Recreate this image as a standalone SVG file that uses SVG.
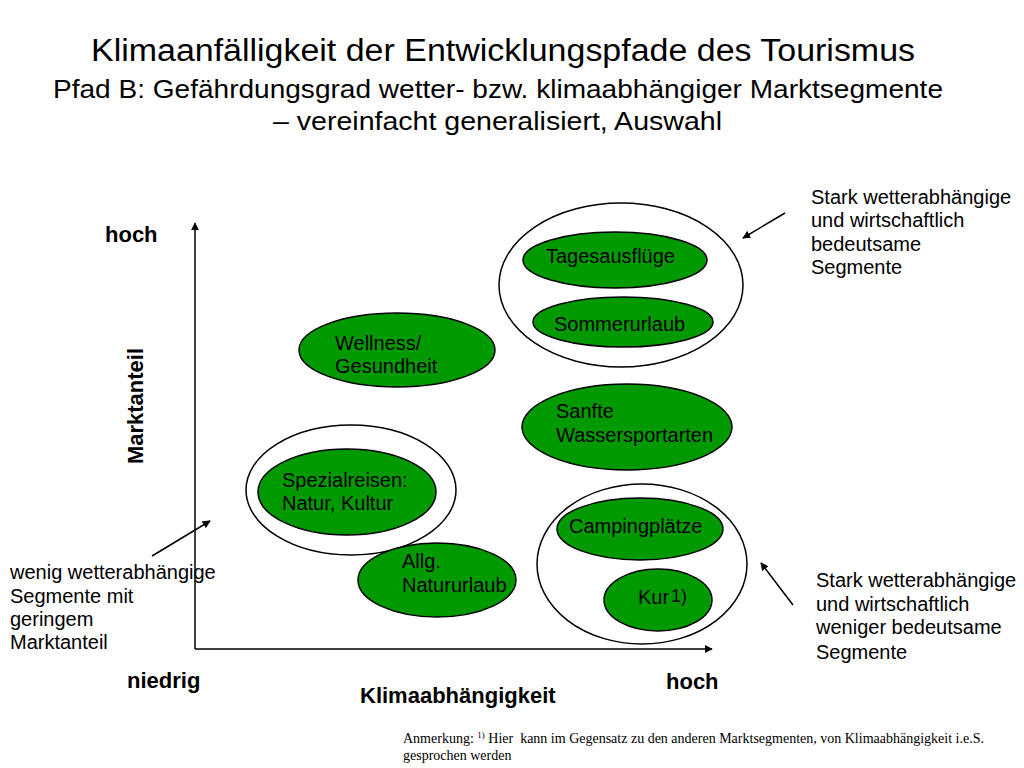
<svg xmlns="http://www.w3.org/2000/svg" width="1024" height="768" viewBox="0 0 1024 768">
<defs>
<style>
text{font-family:"Liberation Sans",Arial,sans-serif;fill:#000}
.t1{font-size:31px}
.t2{font-size:26px}
.lb{font-size:20px}
.ax{font-size:22px;font-weight:bold}
.fn{font-family:"Liberation Serif","Times New Roman",serif;font-size:14px}
.g{fill:#009900;stroke:#000;stroke-width:1.5}
.o{fill:none;stroke:#000;stroke-width:1.5}
.ln{stroke:#000;stroke-width:1.5;fill:none}
</style>
<marker id="ah" viewBox="0 0 10 10" refX="9" refY="5" markerWidth="8" markerHeight="8" markerUnits="userSpaceOnUse" orient="auto">
<path d="M0,0 L10,5 L0,10 z" fill="#000"/>
</marker>
</defs>
<rect width="1024" height="768" fill="#fff"/>
<g id="title">
<text class="t1" x="91" y="61" textLength="824" lengthAdjust="spacingAndGlyphs">Klimaanfälligkeit der Entwicklungspfade des Tourismus</text>
<text class="t2" x="53" y="98" textLength="890" lengthAdjust="spacingAndGlyphs">Pfad B: Gefährdungsgrad wetter- bzw. klimaabhängiger Marktsegmente</text>
<text class="t2" x="273" y="130" textLength="449" lengthAdjust="spacingAndGlyphs">– vereinfacht generalisiert, Auswahl</text>
</g>
<g id="connectors">
<line class="ln" x1="195" y1="649" x2="195" y2="223" marker-end="url(#ah)"/>
<line class="ln" x1="195" y1="649" x2="712" y2="649" marker-end="url(#ah)"/>
<line class="ln" x1="785" y1="213" x2="743" y2="238" marker-end="url(#ah)"/>
<line class="ln" x1="793" y1="605" x2="761" y2="563" marker-end="url(#ah)"/>
<line class="ln" x1="152" y1="556" x2="210" y2="521" marker-end="url(#ah)"/>
</g>
<g id="axis-labels">
<text class="ax" x="105" y="242">hoch</text>
<text class="ax" transform="translate(143,406) rotate(-90)" text-anchor="middle">Marktanteil</text>
<text class="ax" x="127" y="688">niedrig</text>
<text class="ax" x="666" y="689">hoch</text>
<text class="ax" x="360" y="703">Klimaabhängigkeit</text>
</g>
<g id="group-top">
<ellipse class="o" cx="621" cy="285" rx="122" ry="82"/>
</g>
<g id="group-left">
<ellipse class="o" cx="351" cy="490" rx="105" ry="65"/>
</g>
<g id="group-bottom">
<ellipse class="o" cx="642" cy="564" rx="105" ry="80"/>
</g>
<g id="tagesausfluege">
<ellipse class="g" cx="615" cy="260" rx="92" ry="28"/>
<text class="lb" x="546" y="263">Tagesausflüge</text>
</g>
<g id="sommerurlaub">
<ellipse class="g" cx="623" cy="322" rx="90" ry="25"/>
<text class="lb" x="554" y="331">Sommerurlaub</text>
</g>
<g id="wellness">
<ellipse class="g" cx="397" cy="350" rx="98" ry="37"/>
<text class="lb" x="335" y="350">Wellness/</text>
<text class="lb" x="335" y="373">Gesundheit</text>
</g>
<g id="wassersport">
<ellipse class="g" cx="627" cy="427" rx="105" ry="43"/>
<text class="lb" x="556" y="418">Sanfte</text>
<text class="lb" x="556" y="442">Wassersportarten</text>
</g>
<g id="spezialreisen">
<ellipse class="g" cx="347" cy="492" rx="89" ry="43"/>
<text class="lb" x="282" y="487">Spezialreisen:</text>
<text class="lb" x="282" y="510">Natur, Kultur</text>
</g>
<g id="natururlaub">
<ellipse class="g" cx="437" cy="580" rx="79" ry="37"/>
<text class="lb" x="402" y="568">Allg.</text>
<text class="lb" x="402" y="592">Natururlaub</text>
</g>
<g id="camping">
<ellipse class="g" cx="640" cy="529" rx="83" ry="31"/>
<text class="lb" x="569" y="533">Campingplätze</text>
</g>
<g id="kur">
<ellipse class="g" cx="658" cy="600" rx="54" ry="31"/>
<text class="lb" x="638" y="604">Kur</text>
<text class="lb" x="671" y="602" style="font-size:18px">1)</text>
</g>
<g id="note-top">
<text class="lb" x="811" y="204">Stark wetterabhängige</text>
<text class="lb" x="811" y="227">und wirtschaftlich</text>
<text class="lb" x="811" y="251">bedeutsame</text>
<text class="lb" x="811" y="274">Segmente</text>
</g>
<g id="note-bottom">
<text class="lb" x="816" y="587">Stark wetterabhängige</text>
<text class="lb" x="816" y="611">und wirtschaftlich</text>
<text class="lb" x="816" y="634">weniger bedeutsame</text>
<text class="lb" x="816" y="659">Segmente</text>
</g>
<g id="note-left">
<text class="lb" x="10" y="579">wenig wetterabhängige</text>
<text class="lb" x="10" y="603">Segmente mit</text>
<text class="lb" x="10" y="626">geringem</text>
<text class="lb" x="10" y="649">Marktanteil</text>
</g>
<g id="footnote">
<text class="fn" x="403" y="743" xml:space="preserve">Anmerkung: <tspan font-size="9" dy="-5">1)</tspan><tspan dy="5"> Hier  kann im Gegensatz zu den anderen Marktsegmenten, von Klimaabhängigkeit i.e.S.</tspan></text>
<text class="fn" x="403" y="760">gesprochen werden</text>
</g>
</svg>
